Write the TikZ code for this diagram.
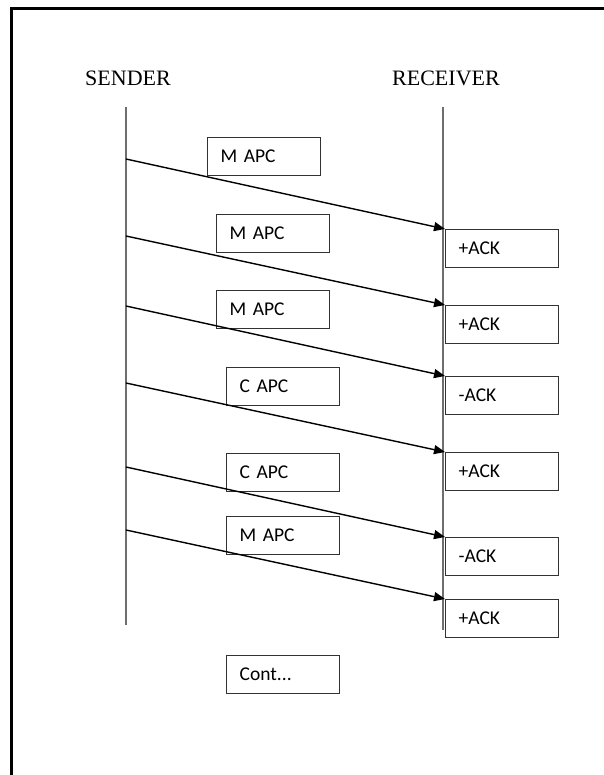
\documentclass[tikz,border=0pt]{standalone}
\usepackage{fontspec}
\setmainfont{Carlito}[WordSpace=0.55]
\newfontfamily\serifhead{Liberation Serif}
\usetikzlibrary{arrows.meta}
\definecolor{lifegray}{RGB}{110,110,110}
\definecolor{boxgray}{RGB}{50,50,50}
\begin{document}
\begin{tikzpicture}[x=1pt,y=-1pt,
  msgbox/.style={draw=boxgray, line width=1.4pt, fill=white, rectangle, anchor=north west,
    minimum width=113pt, minimum height=38pt, text width=87pt, inner xsep=13pt,
    align=left, font=\fontsize{19.5}{22}\selectfont},
  head/.style={font=\serifhead\fontsize{22}{24}\selectfont, inner sep=0pt},
  lifeline/.style={draw=lifegray, line width=1.8pt},
  msg/.style={draw=black, line width=1.4pt, -{Triangle[length=11pt,width=9pt]}, shorten >=0pt}]
\useasboundingbox (0,0) rectangle (603,775);
% frame
\draw[line width=2.2pt] (11.5,800) -- (11.5,8.5) -- (620,8.5);
% heads
\node[head, anchor=base west] (sender) at (85,86) {SENDER};
\node[head, anchor=base west] (receiver) at (392,86) {RECEIVER};
% lifelines
\coordinate (stop) at (126,107);
\coordinate (sbot) at (126,625);
\coordinate (rtop) at (443,107);
\coordinate (rbot) at (443,630);
\draw[lifeline] (stop) -- (sbot);
\draw[lifeline] (rtop) -- (rbot);
% sender boxes
\node[msgbox] (m1) at (207,137) {M APC};
\node[msgbox] (m2) at (216,214) {M APC};
\node[msgbox] (m3) at (216,290) {M APC};
\node[msgbox] (c1) at (226,367) {C APC};
\node[msgbox] (c2) at (226,453) {C APC};
\node[msgbox] (m4) at (226,516) {M APC};
\node[msgbox] (cont) at (226,655) {Cont...};
% receiver boxes
\node[msgbox] (a1) at (445,229) {+ACK};
\node[msgbox] (a2) at (445,305) {+ACK};
\node[msgbox] (a3) at (445,376) {-ACK};
\node[msgbox] (a4) at (445,452) {+ACK};
\node[msgbox] (a5) at (445,537) {-ACK};
\node[msgbox] (a6) at (445,599) {+ACK};
% message endpoints
\coordinate (s1) at (126,159);
\coordinate (s2) at (126,236);
\coordinate (s3) at (126,306);
\coordinate (s4) at (126,383);
\coordinate (s5) at (126,467);
\coordinate (s6) at (126,530);
\draw[msg] (s1) -- (a1.north west);
\draw[msg] (s2) -- (a2.north west);
\draw[msg] (s3) -- (a3.north west);
\draw[msg] (s4) -- (a4.north west);
\draw[msg] (s5) -- (a5.north west);
\draw[msg] (s6) -- (a6.north west);
\end{tikzpicture}
\end{document}
